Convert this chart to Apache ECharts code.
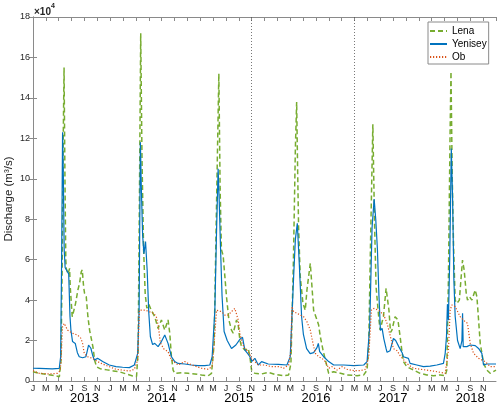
<!DOCTYPE html>
<html>
<head>
<meta charset="utf-8">
<script src="https://cdn.jsdelivr.net/npm/echarts@6/dist/echarts.min.js"></script>
<style>
html,body{margin:0;padding:0;background:#fff;}
#chart{width:500px;height:408px;}
</style>
</head>
<body>
<div id="chart"></div>
<script>
// x = months since 1 Jan 2013, y = discharge in 10^4 m^3/s
var monthLabels = ['J','M','M','J','S','N'];
var years = ['2013','2014','2015','2016','2017','2018'];
var seriesNames = ['Lena','Yenisey','Ob'];
var dividers = [34, 50];

var lenaData = [[0,0.46],[1,0.38],[2,0.33],[3,0.28],[3.6,0.25],[4.1,0.21],[4.35,1.0],[4.55,6.0],[4.7,12.0],[4.83,15.5],[4.97,10.0],[5.1,6.0],[5.17,5.57],[5.45,5.3],[5.69,5.57],[5.79,4.66],[6.1,3.18],[6.31,3.43],[6.62,3.84],[6.98,4.5],[7.24,4.83],[7.5,5.4],[7.66,5.5],[7.87,4.66],[8.02,4.33],[8.28,4.17],[8.54,3.18],[8.8,2.52],[9.32,1.69],[9.6,1.0],[9.9,0.7],[10.5,0.6],[11.5,0.55],[12.5,0.5],[13.5,0.45],[14.5,0.35],[15.5,0.25],[16.1,0.22],[16.35,1.5],[16.55,9.0],[16.75,17.2],[16.95,11.0],[17.2,6.5],[17.45,4.3],[17.7,3.6],[18.0,3.8],[18.4,3.5],[18.93,3.18],[19.45,2.6],[19.97,3.02],[20.49,2.52],[21.0,3.02],[21.27,2.36],[21.53,1.2],[21.79,0.54],[22.04,0.38],[23.08,0.41],[24.12,0.38],[25.16,0.35],[26.2,0.3],[27.24,0.26],[27.76,0.38],[28.17,1.86],[28.5,8.0],[28.9,15.2],[29.1,9.5],[29.3,6.5],[29.57,6.2],[29.83,5.2],[30.09,4.17],[30.46,3.02],[30.87,2.52],[31.13,2.36],[31.39,2.69],[31.65,3.02],[31.91,2.77],[32.17,2.03],[32.43,1.7],[32.95,1.53],[33.47,1.61],[33.73,1.2],[33.99,0.54],[34.5,0.38],[35.55,0.35],[36.58,0.43],[37.62,0.33],[38.97,0.26],[39.75,0.3],[40.11,0.87],[40.5,6.0],[40.8,11.5],[41.0,13.8],[41.15,10.5],[41.3,7.63],[41.56,5.16],[41.98,3.84],[42.34,3.5],[42.6,4.5],[42.86,5.16],[43.12,5.82],[43.38,4.67],[43.64,3.5],[44.16,3.02],[44.42,2.77],[44.68,2.19],[45.1,1.53],[45.46,1.04],[45.98,0.38],[46.76,0.46],[47.8,0.38],[48.83,0.3],[50.39,0.26],[51.43,0.3],[51.95,0.54],[52.21,1.86],[52.5,7.0],[52.85,12.7],[53.1,8.0],[53.35,4.66],[53.71,3.34],[53.97,2.52],[54.49,3.18],[54.91,4.58],[55.12,4.5],[55.35,3.51],[55.6,2.4],[55.8,2.5],[56.31,3.18],[56.75,3.02],[57.09,2.19],[57.35,1.53],[57.6,0.96],[58.12,0.71],[59.16,0.54],[60.2,0.38],[61.24,0.3],[62.28,0.26],[63.32,0.3],[64.1,0.26],[64.35,0.54],[64.6,5.0],[64.85,12.0],[65.0,15.3],[65.2,10.0],[65.39,6.81],[65.65,4.0],[65.91,3.84],[66.3,4.0],[66.79,5.98],[67.05,5.49],[67.37,4.34],[67.57,4.0],[67.88,4.17],[68.25,4.0],[68.77,4.5],[69.03,4.17],[69.29,3.02],[69.55,1.86],[70.07,0.87],[70.58,0.54],[71.1,0.38],[72,0.54]];

var yeniseyData = [[0,0.63],[1,0.62],[2,0.61],[3,0.6],[4.08,0.62],[4.3,1.2],[4.45,6.0],[4.6,12.3],[4.72,10.0],[4.85,6.5],[5.0,5.6],[5.27,5.45],[5.55,5.3],[5.75,3.2],[5.9,2.5],[6.15,1.95],[6.57,1.86],[6.9,1.4],[7.19,1.2],[7.71,1.15],[8.23,1.2],[8.45,1.5],[8.64,1.78],[9.0,1.62],[9.25,1.3],[9.53,1.04],[10.05,1.12],[10.3,1.17],[10.83,0.96],[11.86,0.79],[12.9,0.71],[13.94,0.68],[14.98,0.66],[15.76,0.79],[16.28,1.37],[16.5,3.5],[16.7,11.8],[16.85,9.5],[17.05,7.2],[17.25,6.3],[17.5,6.9],[17.75,5.5],[18.0,3.4],[18.25,2.2],[18.6,1.8],[18.93,1.86],[19.45,1.7],[19.97,1.95],[20.49,2.27],[21.0,1.86],[21.53,1.2],[22.04,0.96],[22.56,0.87],[23.6,0.84],[24.64,0.79],[25.68,0.76],[26.72,0.76],[27.5,0.79],[27.86,1.2],[28.28,3.5],[28.55,7.5],[28.79,10.5],[28.95,9.0],[29.16,6.6],[29.4,4.2],[29.72,2.45],[30.2,2.0],[30.87,1.61],[31.55,1.78],[32.17,2.06],[32.58,2.16],[32.95,1.53],[33.4,1.35],[33.73,1.2],[33.99,0.96],[34.5,1.12],[35.03,0.79],[35.55,0.96],[36.58,0.84],[38.14,0.82],[39.49,0.79],[40.0,1.2],[40.53,5.16],[40.8,7.0],[41.1,7.8],[41.41,5.8],[41.77,3.18],[42.05,2.3],[42.55,1.6],[43.1,1.35],[43.64,1.4],[44.16,1.65],[44.37,1.86],[44.58,1.45],[45.2,1.2],[45.98,0.96],[46.76,0.79],[48.31,0.79],[49.87,0.76],[51.43,0.79],[51.95,0.96],[52.36,2.69],[52.73,7.6],[53.05,9.0],[53.3,8.0],[53.56,6.5],[53.8,4.2],[54.03,2.5],[54.29,2.6],[54.55,2.1],[54.91,1.6],[55.06,1.42],[55.53,1.5],[56.05,2.1],[56.4,2.0],[56.88,1.7],[57.4,1.4],[57.6,1.2],[58.38,1.12],[58.64,0.87],[59.68,0.79],[60.72,0.71],[61.76,0.74],[62.8,0.79],[63.83,0.87],[64.1,1.37],[64.3,2.2],[64.45,3.8],[64.6,3.0],[64.8,6.0],[65.05,11.5],[65.25,9.0],[65.45,5.0],[65.65,3.2],[66.02,2.0],[66.43,1.6],[66.7,2.0],[66.8,3.35],[66.9,1.7],[67.47,1.7],[67.99,1.78],[68.77,1.75],[69.29,1.61],[69.8,1.37],[70.06,0.8],[70.58,0.84],[72,0.84]];

var obData = [[0,0.51],[0.96,0.38],[2.52,0.35],[3.82,0.38],[4.2,0.5],[4.34,0.87],[4.6,2.69],[4.85,2.85],[5.37,2.52],[6.15,2.36],[6.93,2.27],[7.45,2.11],[7.71,1.86],[7.97,1.37],[8.49,1.2],[9.27,1.12],[10.05,0.96],[10.83,0.84],[11.86,0.71],[12.9,0.58],[13.94,0.54],[14.98,0.49],[15.76,0.58],[16.28,1.04],[16.54,3.5],[16.8,3.59],[17.5,3.5],[18.3,3.4],[18.8,3.35],[19.2,3.15],[19.5,2.7],[19.8,1.9],[20.3,1.6],[21.0,1.45],[21.53,1.04],[22.56,0.79],[23.6,0.96],[24.12,0.87],[25.16,0.74],[26.2,0.63],[27.24,0.58],[27.86,0.71],[28.17,1.86],[28.54,3.5],[28.8,3.59],[29.31,3.43],[29.83,3.26],[30.35,3.26],[30.87,3.43],[31.39,3.59],[31.65,3.5],[31.91,3.02],[32.17,2.36],[32.53,1.86],[32.95,1.61],[33.47,1.45],[33.99,1.12],[34.5,0.96],[35.03,0.79],[36.06,0.79],[37.1,0.71],[38.4,0.71],[38.97,0.63],[39.75,0.79],[40.11,1.53],[40.27,3.68],[40.53,3.43],[41.05,3.35],[41.56,3.26],[42.08,3.18],[42.6,2.93],[43.12,2.52],[43.54,1.86],[43.9,1.37],[44.42,1.2],[44.94,1.12],[45.46,0.96],[45.98,0.63],[46.5,0.71],[47.28,0.54],[48.05,0.71],[48.83,0.58],[49.87,0.51],[50.91,0.51],[51.69,0.58],[52.21,1.2],[52.62,3.5],[52.99,3.59],[53.76,3.5],[54.55,3.26],[55.06,2.85],[55.58,2.2],[56.05,1.6],[56.62,1.5],[57.09,1.25],[58.12,0.87],[59.16,0.63],[60.2,0.58],[61.24,0.54],[62.28,0.49],[63.32,0.43],[64.1,0.38],[64.61,1.53],[64.87,3.5],[65.13,3.76],[65.65,3.68],[66.43,3.18],[67.21,2.93],[67.57,2.85],[67.99,1.86],[68.51,1.37],[69.29,1.12],[69.8,1.04],[70.33,0.96],[71.1,0.71],[72,0.71]];

var FONT = 'Liberation Sans, Arial, Helvetica, sans-serif';
var AX = '#262626';
var BOX = '#8a8a8a';

var chart = echarts.init(document.getElementById('chart'), null, {renderer: 'canvas'});
var option = {
  animation: false,
  backgroundColor: '#ffffff',
  textStyle: {fontFamily: FONT},
  title: {
    text: '{b|\u00d710}{s|4}',
    left: 34, top: 3,
    padding: 0,
    textStyle: {rich: {
      b: {fontSize: 10, color: AX, fontFamily: FONT, padding: [4,0,0,0]},
      s: {fontSize: 7, color: AX, fontFamily: FONT, verticalAlign: 'top'}
    }}
  },
  grid: {left: 33, right: 4, top: 17, bottom: 27, containLabel: false, outerBoundsMode: 'none'},
  legend: {
    data: seriesNames,
    orient: 'vertical',
    left: 428, top: 22,
    itemWidth: 17, itemHeight: 10, itemGap: 3,
    padding: [4, 2, 2, 1],
    borderColor: BOX, borderWidth: 1,
    backgroundColor: '#fff',
    itemStyle: {opacity: 0},
    textStyle: {fontSize: 10, color: '#000', fontFamily: FONT, lineHeight: 10}
  },
  xAxis: [
    {
      type: 'value', min: 0, max: 72, interval: 2, position: 'bottom',
      axisLine: {show: true, lineStyle: {color: BOX, width: 1}},
      axisTick: {show: true, inside: true, length: 4, lineStyle: {color: BOX}},
      splitLine: {show: false},
      axisLabel: {
        fontSize: 9, color: AX, fontFamily: FONT, margin: 3, showMaxLabel: false,
        formatter: function (v) { if (v >= 72) return ''; return monthLabels[(v % 12) / 2]; }
      }
    },
    {
      type: 'value', min: 0, max: 72, interval: 4, position: 'bottom',
      axisLine: {show: false}, axisTick: {show: false}, splitLine: {show: false},
      axisLabel: {
        fontSize: 13, color: '#000', fontFamily: FONT, margin: 11,
        formatter: function (v) { return (v % 12 === 8) ? years[(v - 8) / 12] : ''; }
      }
    },
    {
      type: 'value', min: 0, max: 72, interval: 2, position: 'top',
      axisLine: {show: true, lineStyle: {color: BOX, width: 1}},
      axisTick: {show: true, inside: true, length: 4, lineStyle: {color: BOX}},
      axisLabel: {show: false}, splitLine: {show: false}
    }
  ],
  yAxis: [
    {
      type: 'value', min: 0, max: 18, interval: 2, position: 'left',
      name: 'Discharge (m\u00b3/s)', nameLocation: 'middle', nameGap: 18, nameRotate: 90,
      nameMoveOverlap: false,
      nameTextStyle: {fontSize: 11.5, color: AX, fontFamily: FONT},
      axisLine: {show: true, lineStyle: {color: BOX, width: 1}},
      axisTick: {show: true, inside: true, length: 4, lineStyle: {color: BOX}},
      splitLine: {show: false},
      axisLabel: {fontSize: 9, color: AX, fontFamily: FONT, margin: 3}
    },
    {
      type: 'value', min: 0, max: 18, interval: 2, position: 'right',
      axisLine: {show: true, lineStyle: {color: BOX, width: 1}},
      axisTick: {show: true, inside: true, length: 4, lineStyle: {color: BOX}},
      axisLabel: {show: false}, splitLine: {show: false}
    }
  ],
  series: [
    {
      name: seriesNames[0], type: 'line', data: lenaData, xAxisIndex: 0, yAxisIndex: 0,
      showSymbol: false, symbol: 'none',
      lineStyle: {color: '#77AC30', width: 1.5, type: [5, 3]},
      itemStyle: {color: '#77AC30'},
      markLine: {
        silent: true, symbol: ['none', 'none'], label: {show: false},
        lineStyle: {color: '#555', width: 0.8, type: [1, 2]},
        data: dividers.map(function (d) { return {xAxis: d}; })
      }
    },
    {
      name: seriesNames[1], type: 'line', data: yeniseyData, xAxisIndex: 0, yAxisIndex: 0,
      showSymbol: false, symbol: 'none',
      lineStyle: {color: '#0072BD', width: 1.2},
      itemStyle: {color: '#0072BD'}
    },
    {
      name: seriesNames[2], type: 'line', data: obData, xAxisIndex: 0, yAxisIndex: 0,
      showSymbol: false, symbol: 'none',
      lineStyle: {color: '#D95319', width: 1.2, type: [1.2, 1.8]},
      itemStyle: {color: '#D95319'}
    }
  ]
};
chart.setOption(option);
</script>
</body>
</html>
